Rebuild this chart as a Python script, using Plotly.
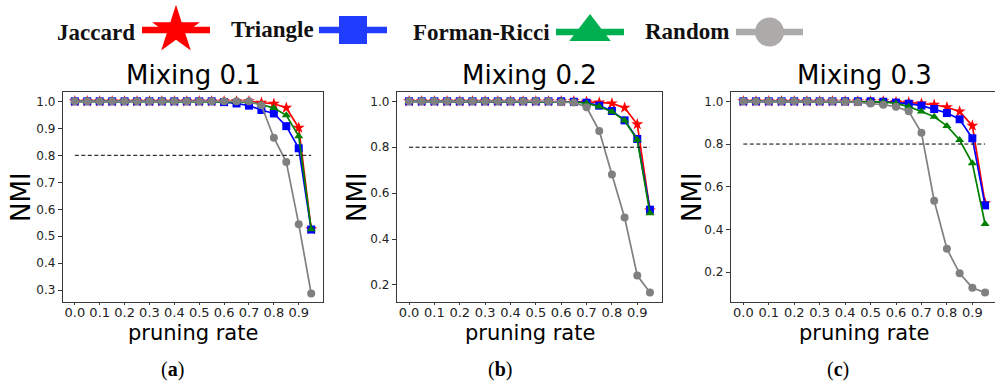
import plotly.graph_objects as go

# ---------------- data ----------------
rates = [0.0, 0.05, 0.1, 0.15, 0.2, 0.25, 0.3, 0.35, 0.4, 0.45,
         0.5, 0.55, 0.6, 0.65, 0.7, 0.75, 0.8, 0.85, 0.9, 0.95]
xtick_vals = [0.0, 0.1, 0.2, 0.3, 0.4, 0.5, 0.6, 0.7, 0.8, 0.9]
xtick_text = ["0.0", "0.1", "0.2", "0.3", "0.4", "0.5", "0.6", "0.7", "0.8", "0.9"]
threshold = 0.8

mixing_titles = ["Mixing 0.1", "Mixing 0.2", "Mixing 0.3"]
captions = ["a", "b", "c"]
series_names = ["Jaccard", "Triangle", "Forman-Ricci", "Random"]

jaccard_01 = [1.0, 1.0, 1.0, 1.0, 1.0, 1.0, 1.0, 1.0, 1.0, 1.0,
              1.0, 1.0, 1.0, 1.0, 1.0, 0.995, 0.991, 0.976, 0.902, 0.526]
triangle_01 = [1.0, 1.0, 1.0, 1.0, 1.0, 1.0, 1.0, 1.0, 1.0, 1.0,
               1.0, 1.0, 0.997, 0.992, 0.984, 0.968, 0.955, 0.908, 0.826, 0.525]
forman_01 = [1.0, 1.0, 1.0, 1.0, 1.0, 1.0, 1.0, 1.0, 1.0, 1.0,
             1.0, 1.0, 1.0, 1.0, 0.998, 0.988, 0.975, 0.948, 0.871, 0.526]
random_01 = [1.0, 1.0, 1.0, 1.0, 1.0, 1.0, 1.0, 1.0, 1.0, 1.0,
             1.0, 1.0, 1.0, 1.0, 1.0, 0.985, 0.865, 0.775, 0.545, 0.288]

jaccard_02 = [1.0, 1.0, 1.0, 1.0, 1.0, 1.0, 1.0, 1.0, 1.0, 1.0,
              1.0, 1.0, 1.0, 1.0, 0.998, 0.995, 0.991, 0.972, 0.900, 0.525]
triangle_02 = [1.0, 1.0, 1.0, 1.0, 1.0, 1.0, 1.0, 1.0, 1.0, 1.0,
               1.0, 1.0, 1.0, 0.998, 0.994, 0.981, 0.958, 0.917, 0.836, 0.528]
forman_02 = [1.0, 1.0, 1.0, 1.0, 1.0, 1.0, 1.0, 1.0, 1.0, 1.0,
             1.0, 1.0, 1.0, 0.997, 0.992, 0.977, 0.955, 0.916, 0.832, 0.512]
random_02 = [1.0, 1.0, 1.0, 1.0, 1.0, 1.0, 1.0, 1.0, 1.0, 1.0,
             1.0, 1.0, 0.996, 0.995, 0.974, 0.871, 0.681, 0.494, 0.241, 0.167]

jaccard_03 = [1.0, 1.0, 1.0, 1.0, 1.0, 1.0, 1.0, 1.0, 1.0, 1.0,
              1.0, 1.0, 0.997, 0.995, 0.990, 0.984, 0.972, 0.952, 0.886, 0.523]
triangle_03 = [1.0, 1.0, 1.0, 1.0, 1.0, 1.0, 1.0, 1.0, 1.0, 1.0,
               1.0, 0.998, 0.994, 0.989, 0.980, 0.964, 0.945, 0.916, 0.827, 0.513]
forman_03 = [1.0, 1.0, 1.0, 1.0, 1.0, 1.0, 1.0, 1.0, 1.0, 1.0,
             0.999, 0.997, 0.990, 0.975, 0.952, 0.928, 0.885, 0.819, 0.710, 0.426]
random_03 = [1.0, 1.0, 1.0, 1.0, 1.0, 1.0, 1.0, 1.0, 0.998, 0.995,
             0.990, 0.984, 0.975, 0.953, 0.853, 0.535, 0.310, 0.195, 0.128, 0.105]

ytick_vals_01 = [0.3, 0.4, 0.5, 0.6, 0.7, 0.8, 0.9, 1.0]
ytick_vals_02 = [0.2, 0.4, 0.6, 0.8, 1.0]
ytick_vals_03 = [0.2, 0.4, 0.6, 0.8, 1.0]

panels = [
    [jaccard_01, triangle_01, forman_01, random_01],
    [jaccard_02, triangle_02, forman_02, random_02],
    [jaccard_03, triangle_03, forman_03, random_03],
]
yticks = [ytick_vals_01, ytick_vals_02, ytick_vals_03]

# ---------------- styles ----------------
W, H = 995, 383
line_colors = ["#ff0000", "#0000ff", "#008000", "#808080"]
legend_colors = ["#ff0000", "#1f3cff", "#00b050", "#adaaaa"]
symbols = ["star", "square", "triangle-up", "circle"]
marker_sizes = [9, 8, 8, 8]
legend_marker_sizes = [36, 28, 36, 29]

# pixel layout of axes boxes: (left, right), y top/bottom
box_x = [(63, 323), (397, 662), (731, 995)]
box_y = (92, 302)
x_ranges = [[-0.0475, 0.9975], [-0.0475, 0.9975], [-0.0485, 0.989]]
y_ranges = [[0.2566, 1.0345], [0.1259, 1.0405], [0.061, 1.0435]]
ylabel_x = [21, 357, 692]
title_y = 75
xlabel_y = 333
caption_y = 369
legend_text = [(96, 32), (272, 29), (481, 32), (687, 31)]
legend_lines = [(142, 210, 30), (319, 387, 30), (556, 624, 32), (736, 803, 32)]

AX_COLOR = "#3a3a3a"
TICK_FONT = "DejaVu Sans"

fig = go.Figure()

for p in range(3):
    xa = "x" if p == 0 else f"x{p + 1}"
    ya = "y" if p == 0 else f"y{p + 1}"
    for s in range(4):
        fig.add_trace(go.Scatter(
            x=rates, y=panels[p][s], mode="lines+markers",
            name=series_names[s], xaxis=xa, yaxis=ya,
            line=dict(color=line_colors[s], width=1.7),
            marker=dict(symbol=symbols[s], size=marker_sizes[s],
                        color=line_colors[s], line=dict(width=0)),
            showlegend=False,
        ))
    fig.add_trace(go.Scatter(
        x=[rates[0], rates[-1]], y=[threshold, threshold], mode="lines",
        xaxis=xa, yaxis=ya, line=dict(color="#000000", width=1, dash="4px,2.5px"),
        showlegend=False, hoverinfo="skip",
    ))

# legend drawn on an overlay axis in pixel units
for s in range(4):
    x0, x1, yc = legend_lines[s]
    fig.add_trace(go.Scatter(
        x=[x0, x1], y=[yc, yc], mode="lines", xaxis="x4", yaxis="y4",
        line=dict(color=legend_colors[s], width=6.5), showlegend=False, hoverinfo="skip",
    ))
    fig.add_trace(go.Scatter(
        x=[(x0 + x1) / 2], y=[yc], mode="markers", xaxis="x4", yaxis="y4",
        marker=dict(symbol=symbols[s], size=legend_marker_sizes[s],
                    color=legend_colors[s], line=dict(width=0)),
        showlegend=False, hoverinfo="skip",
    ))

annotations = []
for s in range(4):
    tx, ty = legend_text[s]
    annotations.append(dict(
        x=tx, y=ty, xref="x4", yref="y4", text=f"<b>{series_names[s]}</b>",
        showarrow=False, xanchor="center", yanchor="middle",
        font=dict(family="Liberation Serif", size=23, color="#111111"),
    ))

layout = dict(
    width=W, height=H, margin=dict(l=0, r=0, t=0, b=0),
    plot_bgcolor="rgba(0,0,0,0)", paper_bgcolor="#ffffff", showlegend=False,
)

for p in range(3):
    l, r = box_x[p]
    xkey = "xaxis" if p == 0 else f"xaxis{p + 1}"
    ykey = "yaxis" if p == 0 else f"yaxis{p + 1}"
    ya = "y" if p == 0 else f"y{p + 1}"
    xa = "x" if p == 0 else f"x{p + 1}"
    layout[xkey] = dict(
        domain=[l / W, r / W], range=x_ranges[p], anchor=ya,
        tickmode="array", tickvals=xtick_vals, ticktext=xtick_text,
        ticks="outside", ticklen=2, tickcolor=AX_COLOR, tickwidth=1,
        ticklabelstandoff=-4,
        showline=True, linecolor=AX_COLOR, linewidth=1.3,
        mirror=True, showgrid=False, zeroline=False,
        tickfont=dict(family=TICK_FONT, size=13, color="#222222"),
    )
    layout[ykey] = dict(
        domain=[(H - box_y[1]) / H, (H - box_y[0]) / H], range=y_ranges[p], anchor=xa,
        tickmode="array", tickvals=yticks[p],
        ticktext=[f"{v:.1f}" for v in yticks[p]],
        ticks="outside", ticklen=4, tickcolor=AX_COLOR, tickwidth=1,
        showline=True, linecolor=AX_COLOR, linewidth=1.3,
        mirror=(p != 2), showgrid=False, zeroline=False,
        tickfont=dict(family=TICK_FONT, size=12, color="#222222"),
    )
    cx = (l + r) / 2 if p < 2 else 864
    annotations.append(dict(
        x=cx, y=title_y, xref="x4", yref="y4", text=mixing_titles[p],
        showarrow=False, xanchor="center", yanchor="middle",
        font=dict(family="DejaVu Sans", size=26, color="#000000"),
    ))
    annotations.append(dict(
        x=ylabel_x[p], y=(box_y[0] + box_y[1]) / 2, xref="x4", yref="y4", text="NMI",
        showarrow=False, textangle=-90, xanchor="center", yanchor="middle",
        font=dict(family="DejaVu Sans", size=26, color="#000000"),
    ))
    annotations.append(dict(
        x=cx, y=xlabel_y, xref="x4", yref="y4", text="pruning rate",
        showarrow=False, xanchor="center", yanchor="middle",
        font=dict(family="DejaVu Sans", size=21, color="#000000"),
    ))
    annotations.append(dict(
        x=[172, 500, 838][p], y=caption_y, xref="x4", yref="y4",
        text=f"(<b>{captions[p]}</b>)",
        showarrow=False, xanchor="center", yanchor="middle",
        font=dict(family="Liberation Serif", size=20, color="#000000"),
    ))

layout["xaxis4"] = dict(domain=[0, 1], range=[0, W], anchor="y4", visible=False, fixedrange=True)
layout["yaxis4"] = dict(domain=[0, 1], range=[H, 0], anchor="x4", visible=False, fixedrange=True)
layout["annotations"] = annotations

fig.update_layout(**layout)
fig.write_html("out.html", config={"displayModeBar": False},
               post_script="document.body.style.margin='0';")
